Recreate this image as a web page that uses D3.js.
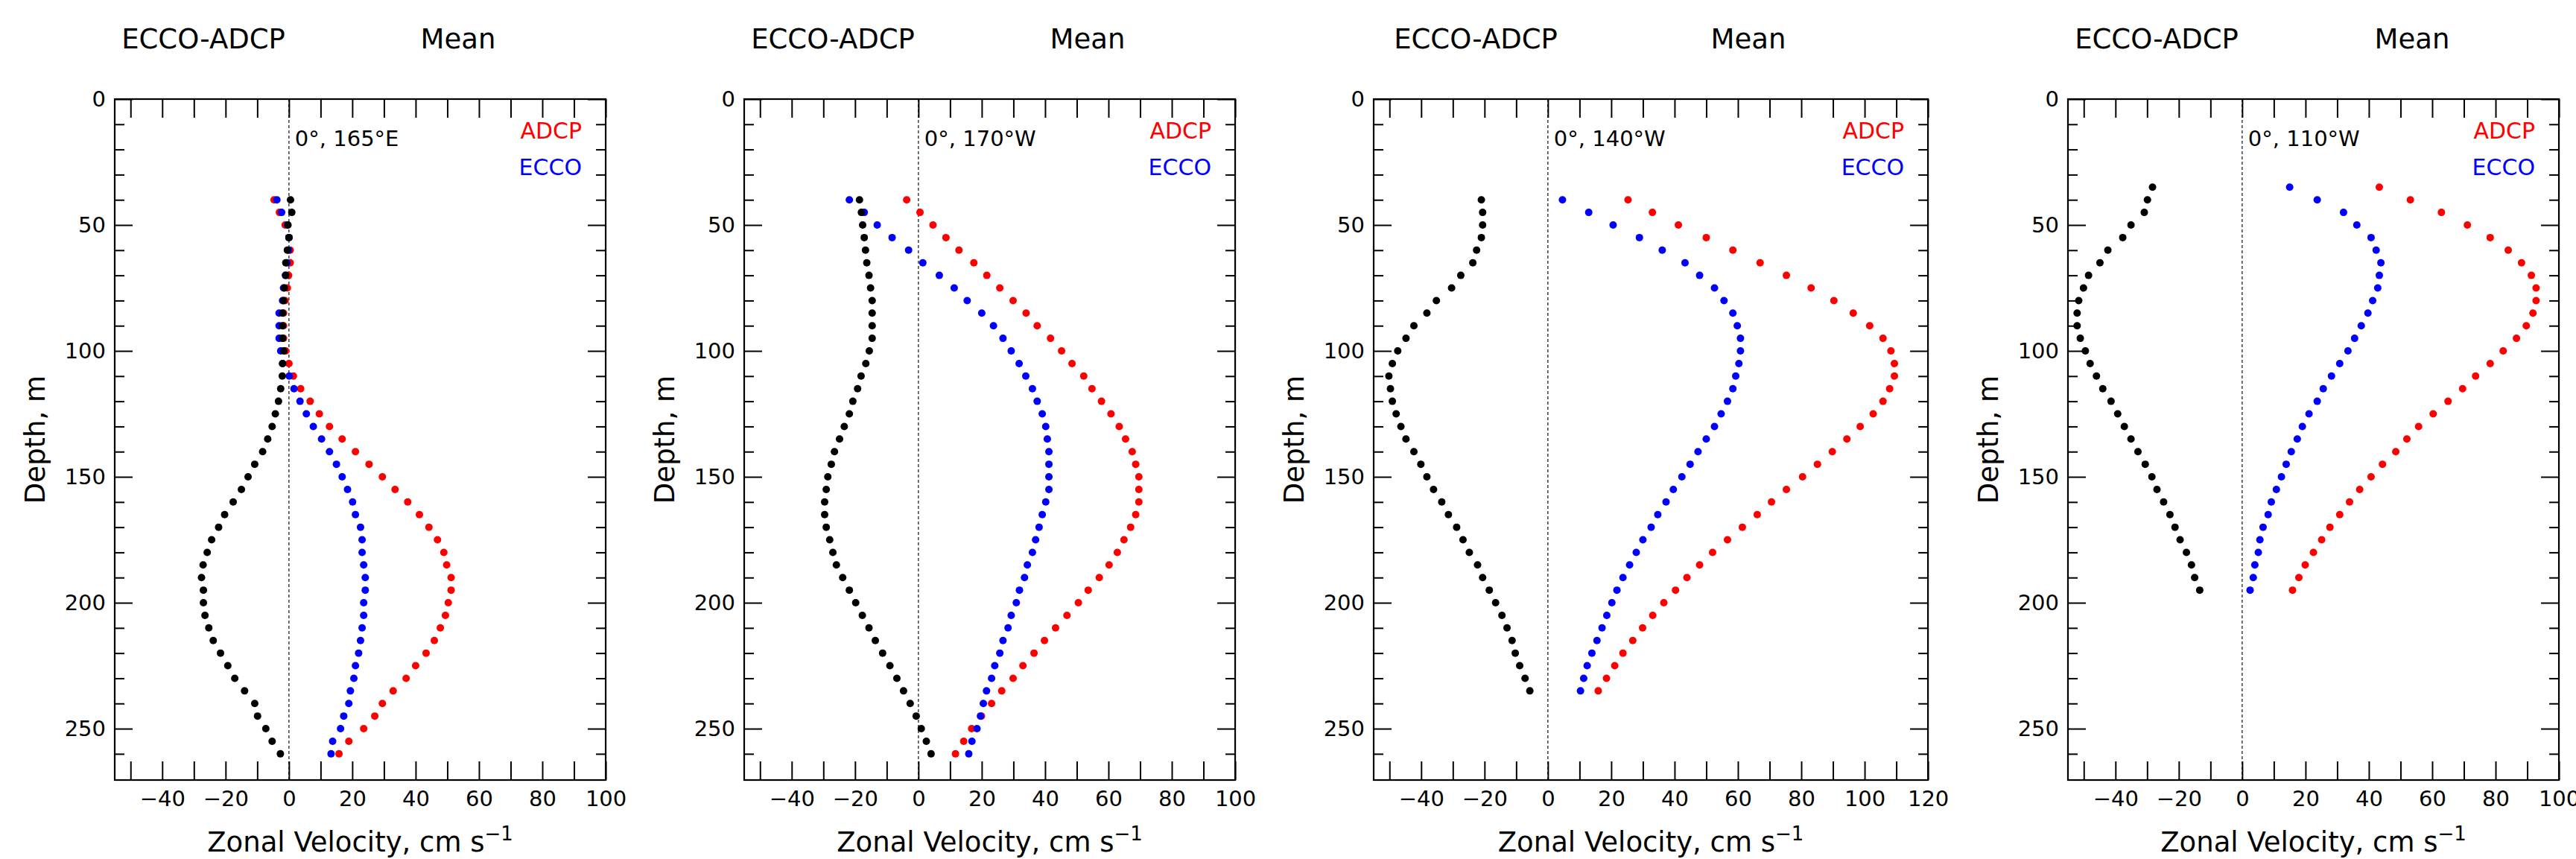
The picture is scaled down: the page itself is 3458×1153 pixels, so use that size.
<!DOCTYPE html>
<html>
<head>
<meta charset="utf-8">
<script src="https://cdn.jsdelivr.net/npm/d3@7"></script>
<style>
  body { margin: 0; background: #fff; }
  text { font-family: "DejaVu Sans", sans-serif; fill: #000; }
</style>
</head>
<body>
<div id="chart"></div>
<script>
// station labels and x-range for each panel
var stations = ["0°, 165°E", "0°, 170°W", "0°, 140°W", "0°, 110°W"];
var xMaxes = [100, 100, 120, 100];

// depth levels (m)
var depth165E = [40, 45, 50, 55, 60, 65, 70, 75, 80, 85, 90, 95, 100, 105, 110, 115, 120, 125, 130, 135, 140, 145, 150, 155, 160, 165, 170, 175, 180, 185, 190, 195, 200, 205, 210, 215, 220, 225, 230, 235, 240, 245, 250, 255, 260];
var depth170W = [40, 45, 50, 55, 60, 65, 70, 75, 80, 85, 90, 95, 100, 105, 110, 115, 120, 125, 130, 135, 140, 145, 150, 155, 160, 165, 170, 175, 180, 185, 190, 195, 200, 205, 210, 215, 220, 225, 230, 235, 240, 245, 250, 255, 260];
var depth140W = [40, 45, 50, 55, 60, 65, 70, 75, 80, 85, 90, 95, 100, 105, 110, 115, 120, 125, 130, 135, 140, 145, 150, 155, 160, 165, 170, 175, 180, 185, 190, 195, 200, 205, 210, 215, 220, 225, 230, 235];
var depth110W = [35, 40, 45, 50, 55, 60, 65, 70, 75, 80, 85, 90, 95, 100, 105, 110, 115, 120, 125, 130, 135, 140, 145, 150, 155, 160, 165, 170, 175, 180, 185, 190, 195];

// mean zonal velocity, cm/s
var adcp165E = [-4.7, -3.0, -1.2, 0.0, 0.4, 0.4, -0.1, -0.5, -1.2, -1.7, -1.7, -1.7, -1.0, 0.0, 1.4, 3.7, 6.7, 9.6, 12.8, 16.8, 21.0, 25.3, 29.5, 33.5, 37.5, 41.2, 44.2, 46.9, 48.9, 49.8, 51.2, 51.2, 50.3, 49.4, 47.8, 45.9, 43.3, 40.0, 37.0, 32.9, 29.5, 27.1, 23.6, 18.9, 15.8];
var ecco165E = [-3.8, -2.3, -0.5, 0.0, -0.1, -0.6, -1.1, -1.7, -2.0, -3.1, -3.1, -3.1, -2.6, -2.0, 0.1, 1.6, 3.5, 5.5, 7.7, 10.3, 12.8, 15.0, 16.8, 18.5, 20.1, 21.0, 22.6, 23.1, 23.1, 23.6, 24.1, 24.1, 23.6, 23.6, 23.1, 22.6, 22.0, 21.0, 20.5, 19.4, 18.9, 17.3, 16.3, 13.8, 13.3];
var diff165E = [0.5, 0.9, -0.3, 0.0, -0.5, -1.0, -1.0, -1.4, -1.7, -2.0, -2.0, -2.0, -1.6, -2.0, -2.1, -2.6, -3.3, -4.3, -5.3, -6.7, -8.3, -10.8, -12.9, -15.0, -17.6, -20.3, -22.2, -24.4, -25.8, -27.1, -27.6, -27.0, -27.0, -26.5, -25.3, -23.9, -21.6, -19.3, -17.1, -14.0, -10.8, -9.9, -7.3, -5.3, -2.7];

var adcp170W = [-3.7, 0.5, 4.6, 8.7, 12.8, 17.5, 21.6, 25.7, 29.9, 34.0, 37.5, 41.7, 45.2, 48.5, 52.2, 54.8, 57.8, 60.8, 63.4, 65.4, 67.5, 68.6, 69.6, 69.6, 69.6, 68.6, 67.0, 64.9, 62.8, 60.2, 57.1, 53.6, 50.5, 46.9, 43.3, 39.8, 36.5, 33.0, 29.9, 26.3, 23.1, 19.9, 16.8, 14.3, 11.7];
var ecco170W = [-21.8, -17.1, -13.0, -8.3, -3.1, 1.4, 6.6, 11.3, 15.4, 20.0, 23.7, 26.7, 29.3, 31.8, 33.9, 36.0, 37.5, 39.1, 40.2, 40.7, 41.2, 41.2, 41.2, 41.2, 40.2, 39.1, 38.1, 37.0, 36.0, 34.4, 33.5, 31.9, 30.9, 29.3, 28.3, 26.7, 25.7, 24.1, 23.1, 21.5, 20.5, 19.6, 18.5, 16.9, 15.9];
var diff170W = [-18.6, -18.0, -17.6, -17.1, -16.7, -16.3, -15.6, -15.1, -14.6, -14.6, -14.6, -14.6, -15.5, -16.6, -18.1, -19.2, -20.7, -21.8, -23.4, -24.9, -26.5, -27.5, -28.6, -29.1, -29.6, -29.6, -29.1, -28.0, -27.0, -25.9, -23.9, -21.8, -19.8, -17.7, -15.6, -13.6, -11.3, -9.0, -6.8, -4.7, -2.6, -0.7, 0.9, 2.5, 4.0];

var adcp140W = [25.3, 33.0, 41.2, 50.0, 58.4, 67.0, 75.3, 83.1, 90.3, 96.4, 101.6, 105.8, 108.3, 109.4, 109.4, 107.9, 105.8, 102.7, 98.6, 94.4, 89.8, 85.1, 80.4, 75.3, 70.6, 66.1, 61.4, 56.7, 52.0, 47.9, 43.9, 40.3, 36.6, 33.1, 29.9, 26.8, 23.7, 21.1, 18.5, 15.9];
var ecco140W = [4.6, 12.9, 20.6, 28.9, 36.1, 43.3, 47.9, 52.6, 55.6, 58.4, 59.8, 60.8, 60.8, 60.3, 59.3, 58.4, 56.7, 54.7, 52.6, 50.0, 47.4, 44.9, 42.3, 39.6, 37.3, 34.7, 32.6, 30.0, 27.9, 25.8, 23.7, 21.8, 20.2, 18.6, 17.1, 15.5, 13.9, 12.4, 11.3, 10.3];
var diff140W = [-21.0, -20.6, -20.6, -21.0, -22.5, -23.7, -27.5, -30.4, -35.2, -38.2, -42.3, -44.8, -47.4, -49.1, -50.2, -49.7, -49.1, -47.9, -46.4, -44.8, -42.3, -40.1, -38.2, -36.1, -33.5, -31.4, -28.8, -26.8, -24.8, -22.2, -20.6, -18.5, -16.5, -14.5, -12.9, -11.3, -10.3, -8.9, -7.2, -5.7];

var adcp110W = [43.3, 53.1, 62.9, 71.1, 78.3, 84.0, 88.2, 91.3, 92.8, 92.8, 91.8, 89.7, 86.6, 82.4, 78.3, 73.7, 69.6, 65.0, 60.3, 55.7, 52.0, 48.5, 44.3, 40.7, 37.1, 33.9, 30.8, 27.7, 25.1, 22.5, 19.9, 17.9, 15.9];
var ecco110W = [15.0, 23.7, 32.0, 36.2, 40.7, 42.3, 43.8, 43.3, 42.8, 41.2, 39.7, 37.6, 35.5, 33.4, 30.8, 28.2, 25.6, 23.7, 21.1, 19.0, 17.4, 15.5, 13.9, 12.4, 10.8, 9.2, 8.2, 6.6, 5.6, 5.1, 4.0, 3.5, 2.5];
var diff110W = [-28.3, -29.9, -30.9, -35.1, -37.7, -42.4, -44.9, -48.5, -50.1, -51.6, -52.1, -52.1, -51.1, -49.5, -48.0, -46.0, -44.0, -41.4, -39.3, -37.2, -35.1, -32.9, -30.6, -28.5, -26.9, -24.8, -22.8, -21.2, -19.6, -17.6, -16.0, -15.0, -13.4];

var depths = [depth165E, depth170W, depth140W, depth110W];
var adcp = [adcp165E, adcp170W, adcp140W, adcp110W];
var ecco = [ecco165E, ecco170W, ecco140W, ecco110W];
var diffs = [diff165E, diff170W, diff140W, diff110W];

// layout (px)
var width = 3458, height = 1153;
var panelLeft = [154, 999, 1844, 2776];
var titleLeftX = [119, 119, 137, 119];     // "ECCO-ADCP" centre, from axis left
var titleRightX = [461, 461, 503, 462];    // "Mean" centre
var pxPerUnit = 4.252;
var plotTop = 133, plotBottom = 1047;
var xMin = -55, depthMax = 270.4;

var svg = d3.select("#chart").append("svg")
    .attr("width", width)
    .attr("height", height);

svg.append("rect").attr("width", width).attr("height", height).attr("fill", "#fff");

stations.forEach(function(name, p) {
  var xMax = xMaxes[p];
  var w = (xMax - xMin) * pxPerUnit;
  var g = svg.append("g").attr("transform", "translate(" + panelLeft[p] + ",0)");

  var x = d3.scaleLinear().domain([xMin, xMax]).range([0, w]);
  var y = d3.scaleLinear().domain([0, depthMax]).range([plotTop, plotBottom]);

  var xTicks = d3.range(-50, xMax + 1, 10);
  var xLab = function(d) { return d % 20 === 0 ? d3.format("d")(d) : ""; };
  var majorY = [0, 50, 100, 150, 200, 250];
  var minorY = d3.range(10, 270, 10).filter(function(d) { return d % 50 !== 0; });

  // zero line
  g.append("line")
    .attr("x1", x(0)).attr("x2", x(0))
    .attr("y1", plotTop).attr("y2", plotBottom)
    .attr("stroke", "#222")
    .attr("stroke-width", 1.3)
    .attr("stroke-dasharray", "4,3");

  // ticks, all pointing in
  var axes = [
    [d3.axisBottom(x).tickValues(xTicks).tickSize(-25).tickPadding(14).tickFormat(xLab), "translate(0," + plotBottom + ")"],
    [d3.axisTop(x).tickValues(xTicks).tickSize(-25).tickFormat(""), "translate(0," + plotTop + ")"],
    [d3.axisLeft(y).tickValues(majorY).tickSize(-24).tickPadding(12), "translate(0,0)"],
    [d3.axisLeft(y).tickValues(minorY).tickSize(-13).tickFormat(""), "translate(0,0)"],
    [d3.axisRight(y).tickValues(majorY).tickSize(-24).tickFormat(""), "translate(" + w + ",0)"],
    [d3.axisRight(y).tickValues(minorY).tickSize(-13).tickFormat(""), "translate(" + w + ",0)"]
  ];
  axes.forEach(function(a) {
    var ax = g.append("g").attr("transform", a[1]).call(a[0]);
    ax.select(".domain").remove();
    ax.selectAll("line").attr("stroke", "#000").attr("stroke-width", 2);
    ax.selectAll("text").attr("font-size", 29).attr("font-family", "DejaVu Sans").attr("fill", "#000");
  });

  // frame
  g.append("rect")
    .attr("x", 0).attr("y", plotTop)
    .attr("width", w).attr("height", plotBottom - plotTop)
    .attr("fill", "none")
    .attr("stroke", "#000")
    .attr("stroke-width", 2.2);

  // dots: ADCP, ECCO, then the difference
  var series = [[adcp[p], "#ff0000"], [ecco[p], "#0000ff"], [diffs[p], "#000000"]];
  series.forEach(function(s) {
    g.append("g").selectAll("circle")
      .data(depths[p])
      .join("circle")
      .attr("cx", function(d, i) { return x(s[0][i]); })
      .attr("cy", function(d) { return y(d); })
      .attr("r", 5)
      .attr("fill", s[1]);
  });

  // titles
  g.append("text").text("ECCO-ADCP")
    .attr("x", titleLeftX[p]).attr("y", 65)
    .attr("text-anchor", "middle").attr("font-size", 37);
  g.append("text").text("Mean")
    .attr("x", titleRightX[p]).attr("y", 65)
    .attr("text-anchor", "middle").attr("font-size", 37);

  // station
  g.append("text").text(name)
    .attr("x", x(0) + 8).attr("y", 196)
    .attr("font-size", 29);

  // legend text
  g.append("text").text("ADCP")
    .attr("x", w - 32).attr("y", 186)
    .attr("text-anchor", "end").attr("font-size", 30)
    .style("fill", "#ff0000");
  g.append("text").text("ECCO")
    .attr("x", w - 32).attr("y", 235)
    .attr("text-anchor", "end").attr("font-size", 30)
    .style("fill", "#0000ff");

  // axis labels
  var xl = g.append("text")
    .attr("x", w / 2).attr("y", 1143)
    .attr("text-anchor", "middle").attr("font-size", 37);
  xl.append("tspan").text("Zonal Velocity, cm s");
  xl.append("tspan").text("\u22121").attr("dy", -15).attr("font-size", 26);

  g.append("text").text("Depth, m")
    .attr("transform", "translate(-94," + ((plotTop + plotBottom) / 2) + ") rotate(-90)")
    .attr("text-anchor", "middle").attr("font-size", 37);
});
</script>
</body>
</html>
